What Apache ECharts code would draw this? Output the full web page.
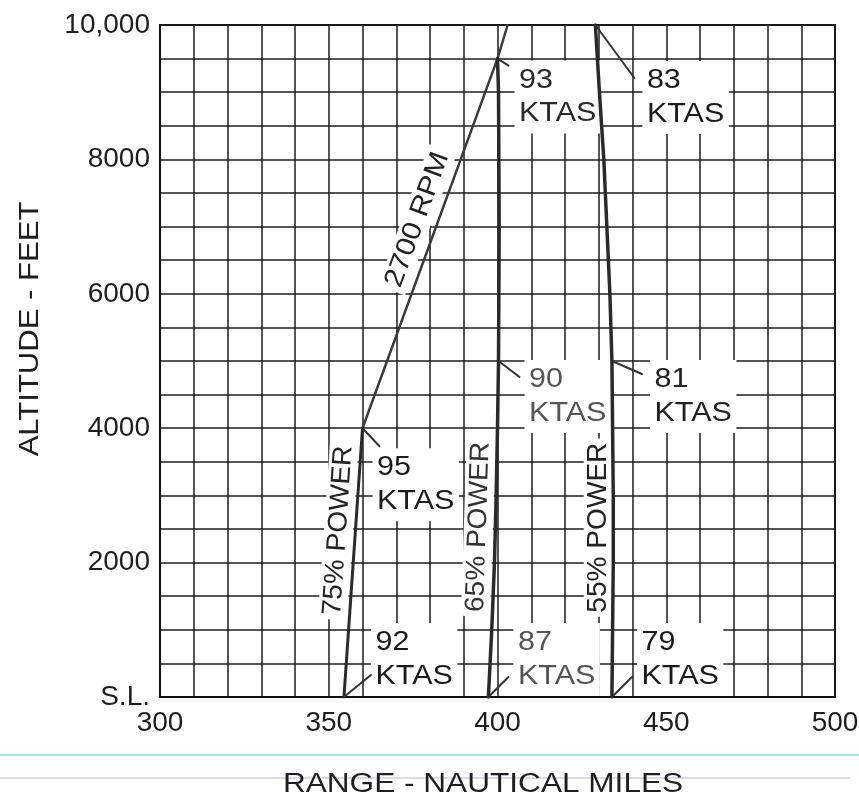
<!DOCTYPE html>
<html>
<head>
<meta charset="utf-8">
<script src="https://cdn.jsdelivr.net/npm/echarts@6/dist/echarts.min.js"></script>
<style>
  html, body { margin: 0; padding: 0; background: #fff; }
  #chart { width: 859px; height: 798px; }
</style>
</head>
<body>
<div id="chart"></div>
<script>
// ---------------- DATA ----------------
const xTickValues = [300, 350, 400, 450, 500];
const yTickValues = [0, 2000, 4000, 6000, 8000, 10000];
const yTickText = ['S.L.', '2000', '4000', '6000', '8000', '10,000'];

// [range (NM), altitude (ft)]
const power75 = [[354.5, 0], [360, 4000]];
const rpm2700 = [[360, 4000], [400, 9500], [403, 10000]];
const power65 = [[397.3, 0], [398.3, 1000], [399.1, 2000], [399.6, 3000], [400, 4000],
                 [400.3, 5000], [400.5, 7000], [400.3, 9000], [400, 9500]];
const power55 = [[433.9, 0], [434.3, 2000], [434.3, 3000], [434.1, 4000], [433.9, 5000],
                 [433.3, 6000], [432.4, 7000], [431.5, 8000], [430.2, 9000], [429, 10000]];

const ktasText = ['93\nKTAS', '83\nKTAS', '90\nKTAS', '81\nKTAS', '95\nKTAS', '92\nKTAS', '87\nKTAS', '79\nKTAS'];
const ktasAnchors = [[400, 9500], [429, 10000], [400.3, 5000], [433.9, 5000],
                     [360, 4000], [354.5, 0], [397.3, 0], [433.9, 0]];

const curveText = ['2700 RPM', '75% POWER', '65% POWER', '55% POWER'];
const curveTextAnchors = [[381.8, 7000], [357.9, 2460], [399.36, 2520], [434.3, 2520]];

// ---------------- LAYOUT / STYLE ----------------
const FONT = '"Liberation Sans", Arial, Helvetica, sans-serif';
const ktasLayout = [
  { lx: 11, ly: 7,   tx: 17, ty: 2,   color: '#2a2a2a' },
  { lx: 39, ly: 53,  tx: 47, ty: 36,  color: '#1a1a1a' },
  { lx: 21, ly: 16,  tx: 26, ty: -1,  color: '#555555' },
  { lx: 30, ly: 13,  tx: 38, ty: -1,  color: '#222222' },
  { lx: 17, ly: 18,  tx: 10, ty: 20,  color: '#1a1a1a' },
  { lx: 27, ly: -22, tx: 27, ty: -74, color: '#1a1a1a' },
  { lx: 20, ly: -20, tx: 25, ty: -74, color: '#555555' },
  { lx: 20, ly: -20, tx: 25, ty: -74, color: '#1a1a1a' }
];
const curveSegs = [[rpm2700[0], rpm2700[1]], [power75[0], power75[1]],
                   [power65[0], power65[4]], [power55[0], power55[4]]];
const curveTextLayout = [
  { d: 20, sx: 1.11, color: '#222' },
  { d: 17, sx: 1.04, color: '#222' },
  { d: 17, sx: 1.04, color: '#333' },
  { d: 15, sx: 1.04, color: '#222' }
];

const chart = echarts.init(document.getElementById('chart'), null, { renderer: 'canvas' });

function lineSeries(name, data, width, color) {
  return {
    name, type: 'line', data, showSymbol: false, symbol: 'none', z: 3,
    lineStyle: { color, width, cap: 'round', join: 'round' },
    emphasis: { disabled: true }, silent: true
  };
}

const option = {
  animation: false,
  backgroundColor: '#ffffff',
  grid: { left: 160, right: 24, top: 25, bottom: 101, outerBoundsMode: 'none',
          show: true, borderColor: '#111', borderWidth: 2, backgroundColor: 'transparent' },
  xAxis: {
    type: 'value', min: 300, max: 500, interval: 10,
    axisLine: { show: true, lineStyle: { color: '#111', width: 2 } },
    axisTick: { show: false },
    splitLine: { show: true, lineStyle: { color: '#1c1c1c', width: 1.5 } },
    axisLabel: {
      show: true, margin: 12, fontSize: 28, fontFamily: FONT, color: '#1e1e1e',
      showMinLabel: true, showMaxLabel: true,
      formatter: v => (xTickValues.indexOf(v) >= 0 ? String(v) : '')
    }
  },
  yAxis: {
    type: 'value', min: 0, max: 10000, interval: 500,
    axisLine: { show: true, lineStyle: { color: '#111', width: 2 } },
    axisTick: { show: false },
    splitLine: { show: true, lineStyle: { color: '#1c1c1c', width: 1.5 } },
    axisLabel: {
      show: true, margin: 10, fontSize: 28, fontFamily: FONT, color: '#1e1e1e',
      showMinLabel: true, showMaxLabel: true,
      formatter: v => { const i = yTickValues.indexOf(v); return i >= 0 ? yTickText[i] : ''; }
    }
  },
  graphic: [
    { type: 'line', silent: true, z: -1, shape: { x1: 0, y1: 755, x2: 859, y2: 755 },
      style: { stroke: '#9fe6ea', lineWidth: 2 } },
    { type: 'line', silent: true, z: -1, shape: { x1: 0, y1: 778, x2: 850, y2: 778 },
      style: { stroke: '#dcc8e8', lineWidth: 1.5 } },
    { type: 'text', silent: true, x: 483, y: 785, scaleX: 1.17,
      style: { text: 'RANGE - NAUTICAL MILES', font: '27px ' + FONT, fill: '#1e1e1e',
               align: 'center', verticalAlign: 'middle', textAlign: 'center', textVerticalAlign: 'middle' } },
    { type: 'text', silent: true, x: 31, y: 329, rotation: Math.PI / 2, scaleX: 1.15,
      style: { text: 'ALTITUDE - FEET', font: '27px ' + FONT, fill: '#1e1e1e',
               align: 'center', verticalAlign: 'middle', textAlign: 'center', textVerticalAlign: 'middle' } }
  ],
  series: [
    // KTAS annotations with leaders
    {
      type: 'custom', name: 'ktas', z: 1, silent: true, clip: false,
      data: ktasAnchors,
      encode: { x: 0, y: 1 },
      renderItem: function (params, api) {
        const i = params.dataIndex;
        const p = api.coord([api.value(0), api.value(1)]);
        const L = ktasLayout[i];
        return {
          type: 'group',
          children: [
            { type: 'text', x: p[0] + L.tx, y: p[1] + L.ty, scaleX: 1.13,
              style: { text: ktasText[i], x: 0, y: 0, font: '27px ' + FONT, fill: L.color,
                       lineHeight: 33.5, align: 'left', verticalAlign: 'top',
                       textAlign: 'left', textVerticalAlign: 'top',
                       backgroundColor: '#ffffff', padding: [3, 4, 3, 4] } },
            { type: 'line', shape: { x1: p[0], y1: p[1], x2: p[0] + L.lx, y2: p[1] + L.ly },
              style: { stroke: '#333', lineWidth: 2, lineCap: 'round' } }
          ]
        };
      }
    },
    // Curve labels (rotated)
    {
      type: 'custom', name: 'curveLabels', z: 1, silent: true, clip: false,
      data: curveTextAnchors,
      encode: { x: 0, y: 1 },
      renderItem: function (params, api) {
        const i = params.dataIndex;
        const p = api.coord([api.value(0), api.value(1)]);
        const s = curveSegs[i];
        const a = api.coord(s[0]), b = api.coord(s[1]);
        const th = Math.atan2(a[1] - b[1], b[0] - a[0]);
        const L = curveTextLayout[i];
        const cx = p[0] - L.d * Math.sin(th);
        const cy = p[1] - L.d * Math.cos(th);
        return {
          type: 'text', x: cx, y: cy, rotation: th, scaleX: L.sx,
          style: { text: curveText[i], x: 0, y: 0, font: '27px ' + FONT, fill: L.color,
                   align: 'center', verticalAlign: 'middle',
                   textAlign: 'center', textVerticalAlign: 'middle',
                   backgroundColor: '#ffffff', padding: [1, 4, 1, 4] }
        };
      }
    },
    lineSeries('2700 RPM', rpm2700, 2.5, '#3a3a3a'),
    lineSeries('75% POWER', power75, 3, '#2a2a2a'),
    lineSeries('65% POWER', power65, 3.5, '#2a2a2a'),
    lineSeries('55% POWER', power55, 3.5, '#2a2a2a')
  ]
};
chart.setOption(option);
</script>
</body>
</html>
